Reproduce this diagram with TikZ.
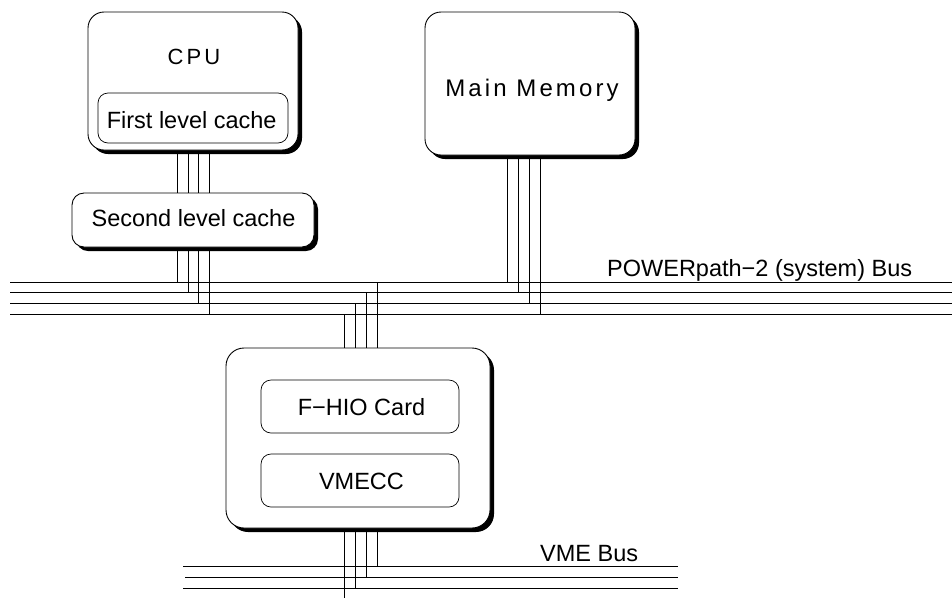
\documentclass[tikz,border=0pt]{standalone}
\usepackage{fontspec}
\setmainfont{Liberation Sans}
\usetikzlibrary{shadows,backgrounds}
\begin{document}
\begin{tikzpicture}[x=1pt,y=-1pt,
  outerbox/.style={draw=black, line width=0.9pt, fill=white, rounded corners=16pt, inner sep=0pt,
    drop shadow={shadow xshift=4pt, shadow yshift=-4pt, opacity=1, fill=black}},
  smallbox/.style={draw=black, line width=0.9pt, fill=white, rounded corners=12pt, inner sep=0pt,
    drop shadow={shadow xshift=4pt, shadow yshift=-4pt, opacity=1, fill=black}},
  innerbox/.style={draw=black, line width=0.7pt, fill=white, rounded corners=10pt, inner sep=0pt},
  lbl/.style={font=\fontsize{23.5}{26}\selectfont, inner sep=0pt, anchor=base},
  wire/.style={line width=0.9pt, black},
  busline/.style={line width=1pt, black}]
\useasboundingbox (0,0) rectangle (952,598);

% boxes
\node[outerbox, minimum width=210pt, minimum height=138pt] (cpu) at (193,81) {};
\node[innerbox, minimum width=190pt, minimum height=50pt] (l1) at (193,118) {};
\node[smallbox, minimum width=242pt, minimum height=54pt] (l2) at (193,220) {};
\node[outerbox, minimum width=210pt, minimum height=143pt] (mm) at (530,83.5) {};
\node[outerbox, minimum width=264pt, minimum height=180pt, rounded corners=18pt] (fhio) at (358,438) {};
\node[innerbox, minimum width=198pt, minimum height=53pt] (card) at (360,406.5) {};
\node[innerbox, minimum width=198pt, minimum height=53pt] (vmecc) at (360,480.5) {};

% texts
\node[lbl, font=\fontsize{22}{26}\selectfont\addfontfeatures{LetterSpace=14}] (tcpu) at (194,64) {CPU};
\node[lbl, font=\fontsize{24}{26}\selectfont\addfontfeatures{LetterSpace=13}] (tmm) at (532,96.7) {Main Memory};
\node[lbl] (tl1) at (191.7,128.3) {First level cache};
\node[lbl] (tl2) at (193.5,226) {Second level cache};
\node[lbl] (tcard) at (361.5,415.7) {F−HIO Card};
\node[lbl] (tvme) at (361.5,489) {VMECC};
\node[lbl, anchor=base west] (tbus) at (607,276) {POWERpath−2 (system) Bus};
\node[lbl, anchor=base west] (tvbus) at (540,561.7) {VME Bus};

% bus coordinates
\coordinate (bL1) at (10,282);   \coordinate (bR1) at (952,282);
\coordinate (bL2) at (10,292.5); \coordinate (bR2) at (952,292.5);
\coordinate (bL3) at (10,303);   \coordinate (bR3) at (952,303);
\coordinate (bL4) at (10,314);   \coordinate (bR4) at (952,314);
\coordinate (vL1) at (183,566.5); \coordinate (vR1) at (678,566.5);
\coordinate (vL2) at (185,577.5); \coordinate (vR2) at (678,577.5);
\coordinate (vL3) at (183,588.5); \coordinate (vR3) at (678,588.5);

% taps
\coordinate (c1) at (177,282);  \coordinate (c2) at (188,292.5);
\coordinate (c3) at (198,303);  \coordinate (c4) at (209,314);
\coordinate (m1) at (507,282);  \coordinate (m2) at (518,292.5);
\coordinate (m3) at (529,303);  \coordinate (m4) at (540,314);
\coordinate (f1) at (377,282);  \coordinate (f2) at (366,292.5);
\coordinate (f3) at (355,303);  \coordinate (f4) at (344,314);
\coordinate (g1) at (377,566.5); \coordinate (g2) at (366,577.5);
\coordinate (g3) at (355,588.5); \coordinate (g4) at (344,598);

\begin{scope}[on background layer]
  \draw[busline] (bL1) -- (bR1);
  \draw[busline] (bL2) -- (bR2);
  \draw[busline] (bL3) -- (bR3);
  \draw[busline] (bL4) -- (bR4);
  \draw[busline] (vL1) -- (vR1);
  \draw[busline] (vL2) -- (vR2);
  \draw[busline] (vL3) -- (vR3);
  \foreach \dx in {-16,-5,5,16}
    \draw[wire] ([xshift=\dx pt]cpu.south) -- ([xshift=\dx pt]l2.north);
  \draw[wire] ([xshift=-16pt]l2.south) -- (c1);
  \draw[wire] ([xshift=-5pt]l2.south) -- (c2);
  \draw[wire] ([xshift=5pt]l2.south) -- (c3);
  \draw[wire] ([xshift=16pt]l2.south) -- (c4);
  \draw[wire] ([xshift=-23pt]mm.south) -- (m1);
  \draw[wire] ([xshift=-12pt]mm.south) -- (m2);
  \draw[wire] ([xshift=-1pt]mm.south) -- (m3);
  \draw[wire] ([xshift=10pt]mm.south) -- (m4);
  \draw[wire] (f1) -- ([xshift=19pt]fhio.north);
  \draw[wire] (f2) -- ([xshift=8pt]fhio.north);
  \draw[wire] (f3) -- ([xshift=-3pt]fhio.north);
  \draw[wire] (f4) -- ([xshift=-14pt]fhio.north);
  \draw[wire] ([xshift=19pt]fhio.south) -- (g1);
  \draw[wire] ([xshift=8pt]fhio.south) -- (g2);
  \draw[wire] ([xshift=-3pt]fhio.south) -- (g3);
  \draw[wire] ([xshift=-14pt]fhio.south) -- (g4);
\end{scope}
\end{tikzpicture}
\end{document}
